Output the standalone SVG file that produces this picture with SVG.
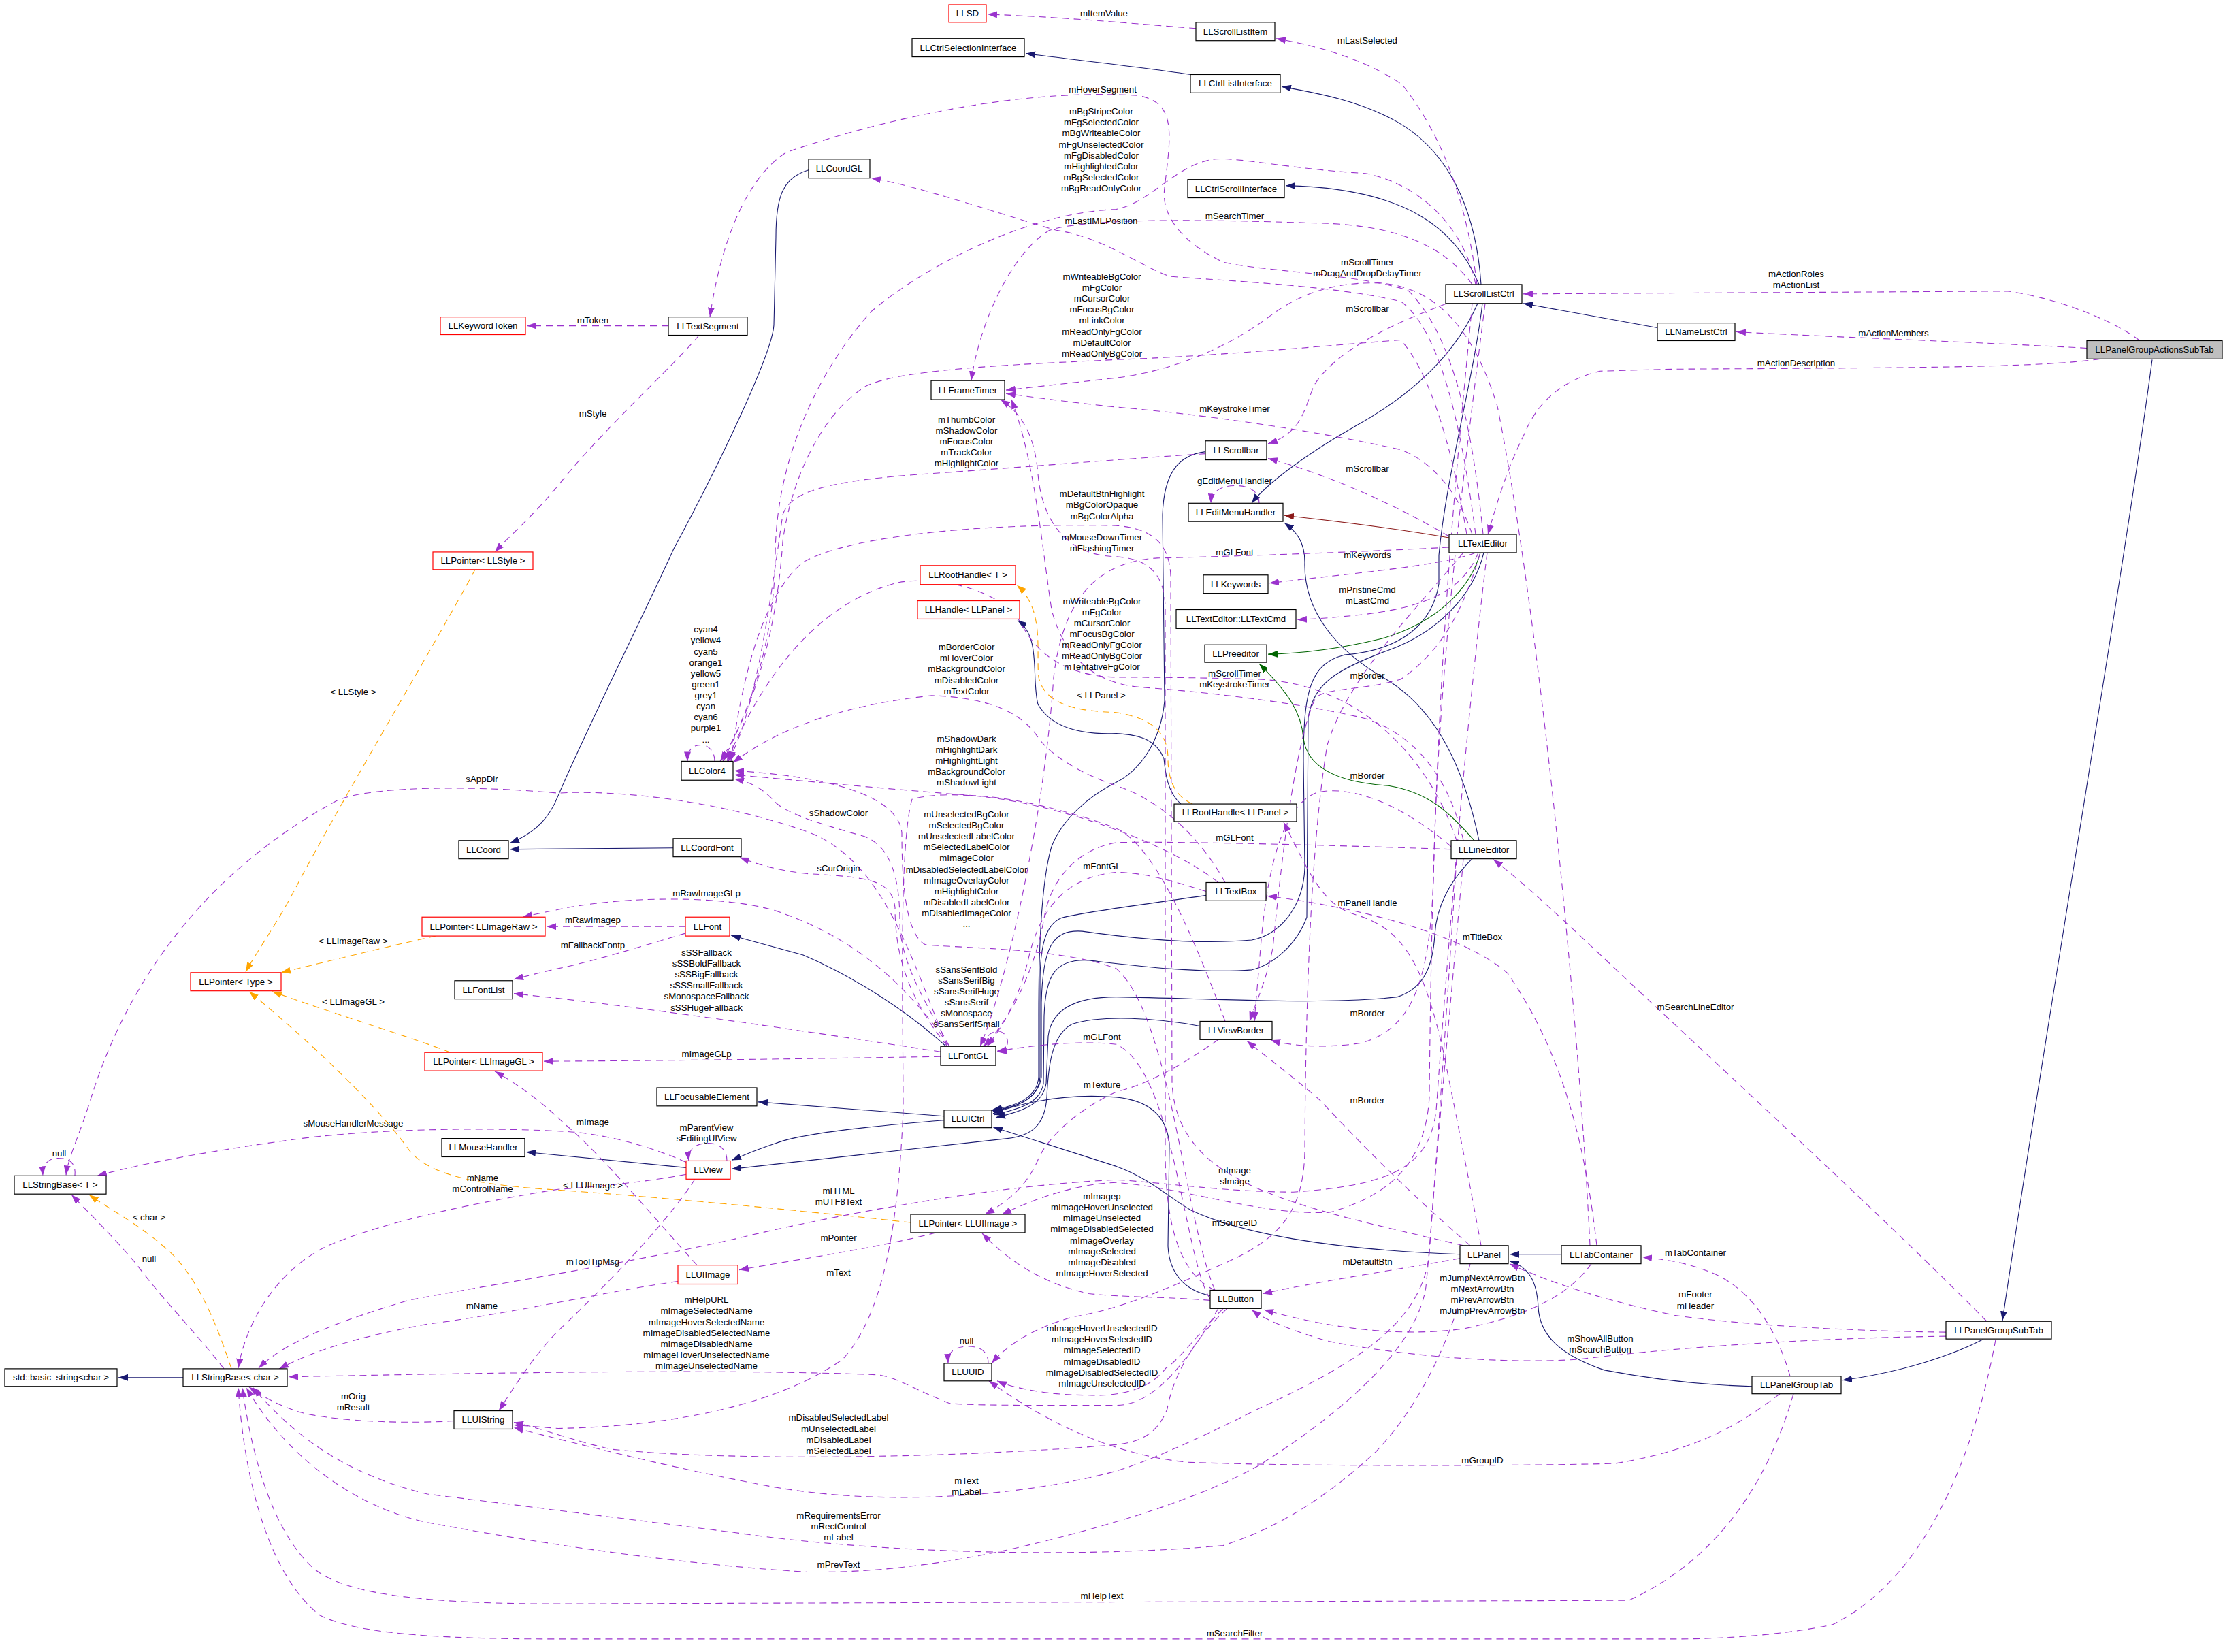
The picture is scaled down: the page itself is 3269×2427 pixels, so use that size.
<svg xmlns="http://www.w3.org/2000/svg" width="3269" height="2427" viewBox="0 0 3269 2427">
<style>
text{font-family:"Liberation Sans",Arial,Helvetica,sans-serif;font-size:13.3px;fill:#000;text-anchor:middle}
.nb{fill:#fff;stroke:#000;stroke-width:1.2}
.nr{fill:#fff;stroke:#ff0000;stroke-width:1.2}
.nm{fill:#bfbfbf;stroke:#000;stroke-width:1.2}
.u{fill:none;stroke:#9a32cd;stroke-width:1.1;stroke-dasharray:10,7;marker-end:url(#mp)}
.i{fill:none;stroke:#191970;stroke-width:1.1;marker-end:url(#mb)}
.t{fill:none;stroke:#ffa500;stroke-width:1.1;stroke-dasharray:10,7;marker-end:url(#mo)}
.g{fill:none;stroke:#006400;stroke-width:1.1;marker-end:url(#mg)}
.d{fill:none;stroke:#8b1a1a;stroke-width:1.1;marker-end:url(#md)}
</style>
<defs>
<marker id="mp" viewBox="0 0 14 10" refX="14" refY="5" markerWidth="14" markerHeight="10" markerUnits="userSpaceOnUse" orient="auto"><path d="M0,0 L14,5 L0,10 z" fill="#9a32cd"/></marker>
<marker id="mb" viewBox="0 0 14 10" refX="14" refY="5" markerWidth="14" markerHeight="10" markerUnits="userSpaceOnUse" orient="auto"><path d="M0,0 L14,5 L0,10 z" fill="#191970"/></marker>
<marker id="mo" viewBox="0 0 14 10" refX="14" refY="5" markerWidth="14" markerHeight="10" markerUnits="userSpaceOnUse" orient="auto"><path d="M0,0 L14,5 L0,10 z" fill="#ffa500"/></marker>
<marker id="mg" viewBox="0 0 14 10" refX="14" refY="5" markerWidth="14" markerHeight="10" markerUnits="userSpaceOnUse" orient="auto"><path d="M0,0 L14,5 L0,10 z" fill="#006400"/></marker>
<marker id="md" viewBox="0 0 14 10" refX="14" refY="5" markerWidth="14" markerHeight="10" markerUnits="userSpaceOnUse" orient="auto"><path d="M0,0 L14,5 L0,10 z" fill="#8b1a1a"/></marker>
</defs>
<rect x="0" y="0" width="3269" height="2427" fill="#fff"/>
<g id="diagram" transform="matrix(1 0 0 0.995 0 0)">
<g id="edges">
<path class="i" d="M2176,420 C2170,330 2140,230 2053,180 C2000,150 1940,138 1883,128"/>
<path class="i" d="M1749,110 C1690,101 1600,91 1507,79"/>
<path class="i" d="M2173,420 C2140,340 2070,278 1889,274"/>
<path class="i" d="M2171,448 C2140,520 2080,580 1990,630 C1920,670 1860,715 1839,743"/>
<path class="i" d="M2178,448 C2165,560 2125,700 2114,820 L2114,862 C2105,920 2060,960 1975,967 C1925,980 1915,1020 1915,1124 L1917,1281 C1915,1340 1880,1380 1839,1388 C1760,1395 1660,1385 1590,1375 C1545,1372 1532,1400 1530,1480 L1530,1590 C1525,1625 1490,1635 1459,1641"/>
<path class="i" d="M2180,816 C2165,880 2110,935 2040,960 C1960,990 1930,1010 1922,1060 L1920,1354 C1905,1395 1870,1425 1839,1432 C1760,1438 1660,1425 1600,1418 C1550,1415 1536,1440 1534,1500 L1533,1600 C1528,1630 1495,1638 1461,1646"/>
<path class="i" d="M2163,1268 C2130,1300 2110,1340 2108,1380 C2105,1430 2090,1460 2053,1472 C1950,1484 1800,1475 1640,1472 C1580,1472 1545,1490 1540,1530 L1537,1600 C1532,1632 1498,1642 1463,1650"/>
<path class="i" d="M1772,1322 C1700,1333 1600,1345 1560,1355 C1535,1365 1528,1400 1528,1450 L1528,1590 C1526,1625 1493,1634 1458,1640"/>
<path class="i" d="M1771,667 C1730,672 1710,700 1708,760 L1711,1035 C1705,1100 1670,1140 1640,1155 C1600,1175 1560,1210 1545,1250 C1530,1300 1526,1400 1526,1500 L1526,1590 C1524,1622 1492,1633 1457,1639"/>
<path class="i" d="M1778,1913 C1740,1905 1718,1880 1716,1840 L1718,1690 C1715,1650 1690,1625 1640,1620 C1580,1615 1520,1622 1459,1644"/>
<path class="i" d="M2145,1852 C1950,1845 1820,1820 1750,1787 C1720,1770 1690,1740 1640,1722 L1459,1664"/>
<path class="i" d="M1387,1648 L1114,1627"/>
<path class="i" d="M1387,1654 C1250,1665 1170,1676 1140,1688 C1110,1698 1092,1706 1075,1713"/>
<path class="i" d="M1763,1515 C1700,1503 1620,1498 1575,1512 C1545,1528 1540,1575 1538,1620 C1535,1665 1512,1677 1480,1681 L1075,1726"/>
<path class="i" d="M1008,1724 L773,1701"/>
<path class="i" d="M2173,1241 C2150,1130 2110,1050 2040,1005 C1960,960 1915,900 1917,830 C1917,800 1905,785 1887,772"/>
<path class="d" d="M2129,794 C2050,780 1950,768 1887,761"/>
<path class="g" d="M2175,816 C2160,870 2110,920 2030,943 C1960,960 1910,965 1863,966"/>
<path class="g" d="M2166,1241 C2130,1200 2100,1170 2040,1160 C1960,1155 1920,1130 1915,1090 C1912,1050 1890,1020 1850,980"/>
<path class="i" d="M2435,484 L2238,448"/>
<path class="i" d="M3162,531 C3120,850 3000,1550 2942,1950"/>
<path class="i" d="M2913,1978 C2870,2000 2800,2025 2707,2038"/>
<path class="i" d="M2574,2047 C2500,2045 2420,2035 2357,2023 C2290,2000 2262,1970 2260,1930 C2258,1890 2245,1870 2218,1862"/>
<path class="i" d="M2294,1852 L2218,1852"/>
<path class="i" d="M1188,251 C1150,262 1140,290 1140,350 L1137,480 C1135,520 1060,680 990,810 C940,920 860,1080 820,1175 C808,1205 790,1228 749,1245"/>
<path class="i" d="M989,1252 L749,1254"/>
<path class="i" d="M1390,1545 C1330,1490 1250,1440 1180,1410 L1074,1381"/>
<path class="i" d="M269,2034 L174,2034"/>
<path class="i" d="M1735,1187 C1715,1170 1712,1140 1710,1120 C1700,1095 1680,1085 1640,1083 C1590,1085 1545,1075 1525,1040 C1515,1000 1530,940 1495,916"/>
<path class="t" d="M698,841 C640,950 520,1150 440,1300 C410,1360 380,1400 361,1435"/>
<path class="t" d="M640,1382 C580,1395 500,1415 413,1436"/>
<path class="t" d="M662,1554 C600,1530 500,1500 400,1464"/>
<path class="t" d="M1338,1805 C1200,1790 1000,1770 820,1757 C700,1750 630,1735 601,1698 C560,1640 470,1550 366,1464"/>
<path class="t" d="M340,2021 C320,1960 290,1880 240,1840 C200,1805 160,1785 131,1764"/>
<path class="t" d="M1752,1187 C1725,1175 1716,1150 1716,1120 C1716,1080 1690,1060 1640,1052 C1580,1050 1535,1040 1526,1000 C1522,960 1535,900 1494,864"/>
<path class="u" d="M1757,42 C1680,36 1560,25 1451,21"/>
<path class="u" d="M2170,420 C2155,300 2120,200 2060,125 C2010,90 1940,68 1875,57"/>
<path class="u" d="M982,481 L774,481"/>
<path class="u" d="M1027,495 C990,540 880,640 820,717 C780,765 750,790 727,815"/>
<path class="u" d="M2179,789 C2165,650 2140,500 2069,429 C2000,405 1850,400 1797,387 C1740,360 1705,320 1711,277 C1720,200 1730,150 1671,141 C1500,130 1300,175 1155,225 C1100,260 1060,350 1043,468"/>
<path class="u" d="M2168,420 C2150,330 2080,270 2006,256 C1900,250 1820,232 1786,235 C1730,240 1690,300 1640,309 C1500,315 1350,400 1280,460 C1200,550 1140,680 1139,820 C1138,950 1100,1050 1062,1124"/>
<path class="u" d="M2168,789 C2150,650 2120,490 2058,445 C1950,420 1800,415 1718,408 C1670,390 1620,350 1552,340 C1450,310 1350,275 1280,263"/>
<path class="u" d="M2163,420 C2120,360 2050,335 1954,330 C1800,325 1600,320 1542,340 C1490,370 1440,470 1427,562"/>
<path class="u" d="M2155,789 C2140,700 2110,560 2058,502 C1950,510 1800,525 1640,531 C1500,538 1300,545 1265,575 C1200,620 1160,720 1150,800 C1140,950 1100,1060 1058,1124"/>
<path class="u" d="M2336,1839 C2320,1500 2260,900 2200,600 C2160,470 2100,425 2030,418 C1950,415 1900,440 1860,471 C1800,515 1720,548 1640,558 L1478,576"/>
<path class="u" d="M2126,448 C2040,480 1960,520 1930,570 C1915,610 1910,640 1863,655"/>
<path class="u" d="M2129,792 C2050,745 1950,700 1863,677"/>
<path class="u" d="M2163,789 C2140,720 2100,680 2058,664 C1950,640 1800,615 1640,601 C1580,595 1530,588 1478,581"/>
<path class="u" d="M1771,670 C1700,674 1500,690 1343,701 C1200,712 1160,730 1150,760 C1130,900 1110,1050 1070,1124"/>
<path class="u" d="M1850,743 C1850,725 1835,717 1815,717 C1795,717 1780,725 1779,743"/>
<path class="u" d="M2150,1839 C1900,1780 1730,1750 1722,1600 L1720,850 C1718,800 1690,780 1640,776 C1450,772 1250,790 1180,830 C1120,880 1090,1000 1074,1124"/>
<path class="u" d="M1785,1905 C1730,1880 1712,1800 1712,1700 L1712,900 C1712,850 1690,825 1640,822 C1560,820 1530,760 1525,700 C1520,640 1500,610 1470,590"/>
<path class="u" d="M2129,808 C2000,815 1800,822 1700,824 C1600,830 1560,900 1548,1000 C1535,1200 1480,1450 1440,1545"/>
<path class="u" d="M2132,1254 C1900,1246 1700,1242 1640,1244 C1580,1255 1545,1300 1535,1350 C1520,1440 1480,1510 1445,1545"/>
<path class="u" d="M1772,1316 C1720,1300 1680,1288 1640,1288 C1560,1295 1525,1350 1510,1420 C1495,1480 1470,1520 1450,1545"/>
<path class="u" d="M1778,1918 C1740,1860 1725,1580 1640,1542 C1580,1535 1510,1545 1465,1552"/>
<path class="u" d="M2168,816 C2120,835 2000,845 1865,861"/>
<path class="u" d="M2172,816 C2150,870 2100,895 2006,907 C1960,912 1930,914 1906,915"/>
<path class="u" d="M2140,1241 C2100,1120 2000,1010 1850,1003 C1750,1000 1680,1000 1640,1000 C1560,998 1520,960 1500,920 C1470,870 1380,850 1320,860 C1200,890 1120,1000 1068,1124"/>
<path class="u" d="M1800,1303 C1760,1230 1700,1180 1640,1160 C1580,1140 1540,1110 1526,1090 C1500,1050 1450,1030 1369,1027 C1250,1040 1150,1070 1077,1126"/>
<path class="u" d="M1800,1508 C1760,1400 1700,1250 1640,1223 C1580,1200 1500,1180 1448,1176 C1300,1165 1150,1150 1079,1144"/>
<path class="u" d="M1050,1124 C1050,1108 1040,1100 1030,1100 C1018,1100 1010,1106 1010,1124"/>
<path class="u" d="M1395,1545 C1360,1480 1322,1420 1322,1360 C1322,1300 1310,1250 1270,1235 C1200,1215 1150,1200 1135,1180 C1115,1160 1100,1155 1079,1150"/>
<path class="u" d="M1785,1905 C1740,1800 1720,1500 1640,1430 C1560,1400 1420,1400 1360,1395 C1330,1380 1325,1300 1325,1230 C1320,1170 1200,1145 1079,1138"/>
<path class="u" d="M1392,1545 C1340,1480 1315,1420 1315,1340 C1310,1300 1280,1295 1186,1290 C1140,1285 1110,1275 1087,1266"/>
<path class="u" d="M1445,1545 C1448,1520 1475,1515 1480,1535 C1482,1545 1475,1552 1465,1553"/>
<path class="u" d="M1007,1368 L803,1368"/>
<path class="u" d="M1395,1545 C1330,1450 1250,1380 1134,1343 C1050,1320 900,1325 820,1343 C800,1347 785,1350 768,1354"/>
<path class="u" d="M1007,1378 C950,1395 870,1420 820,1430 C790,1437 770,1442 755,1446"/>
<path class="u" d="M1382,1553 C1200,1525 1000,1495 820,1474 L755,1467"/>
<path class="u" d="M1382,1560 C1200,1563 1000,1566 799,1567"/>
<path class="u" d="M1024,1868 C980,1820 880,1700 830,1660 C800,1630 760,1600 727,1582"/>
<path class="u" d="M110,1736 C112,1715 100,1710 85,1710 C70,1710 62,1720 63,1736"/>
<path class="u" d="M1392,1545 C1340,1420 1300,1270 1186,1228 C1050,1180 900,1166 820,1171 C700,1160 550,1160 497,1181 C350,1260 200,1400 131,1630 C115,1680 100,1710 97,1735"/>
<path class="u" d="M329,2021 C290,1970 240,1920 200,1866 C170,1830 130,1790 105,1764"/>
<path class="u" d="M1008,1716 C950,1690 880,1672 820,1670 C700,1664 550,1668 450,1680 C300,1700 200,1720 143,1736"/>
<path class="u" d="M1008,1734 C950,1745 880,1752 820,1756 C700,1775 560,1805 480,1840 C400,1880 360,1960 350,2020"/>
<path class="u" d="M1068,1714 C1068,1695 1055,1688 1040,1688 C1022,1688 1010,1697 1012,1714"/>
<path class="u" d="M1021,1741 C990,1790 920,1870 820,1965 C790,1995 760,2040 733,2083"/>
<path class="u" d="M996,1892 C900,1905 750,1940 628,1955 C520,1975 460,1995 410,2021"/>
<path class="u" d="M667,2098 C600,2102 500,2100 440,2085 C410,2075 385,2062 366,2048"/>
<path class="u" d="M1790,1932 C1750,2000 1700,2075 1640,2075 C1500,2075 1420,2075 1395,2072 C1340,2050 1320,2035 1291,2030 C1100,2022 800,2025 424,2033"/>
<path class="u" d="M1375,1820 C1300,1840 1200,1855 1086,1875"/>
<path class="u" d="M1790,1303 C1700,1230 1450,1150 1340,1180 C1320,1250 1327,1500 1327,1640 C1320,1800 1300,1940 1238,2007 C1150,2070 1000,2106 820,2109 L755,2104"/>
<path class="u" d="M2185,816 C2150,1100 2120,1500 2110,1640 C2100,1720 2050,1750 1900,1760 C1800,1760 1700,1745 1640,1742 C1450,1750 1200,1800 1081,1829 C900,1870 700,1900 600,1920 C500,1950 420,1980 380,2020"/>
<path class="u" d="M2163,448 C2140,700 2105,1000 2100,1620 C2095,1700 2060,1760 1954,1790 C1850,1795 1750,1755 1640,1746 C1580,1748 1520,1770 1472,1793"/>
<path class="u" d="M1778,1920 C1720,1915 1640,1915 1600,1910 C1530,1895 1480,1860 1443,1821"/>
<path class="u" d="M1790,1535 C1740,1570 1690,1600 1640,1612 C1580,1640 1540,1680 1526,1710 C1510,1750 1480,1775 1447,1793"/>
<path class="u" d="M1797,1932 C1760,1970 1730,2010 1713,2020 C1690,2050 1650,2062 1600,2060 C1540,2060 1490,2050 1465,2039"/>
<path class="u" d="M1452,2013 C1452,1995 1440,1988 1422,1988 C1404,1988 1392,1995 1393,2013"/>
<path class="u" d="M2615,2058 C2560,2100 2500,2140 2372,2161 C2200,2165 1900,2165 1745,2159 C1650,2150 1550,2110 1453,2039"/>
<path class="u" d="M1803,1932 C1740,1990 1720,2050 1715,2080 C1700,2120 1670,2130 1640,2133 C1450,2150 1100,2160 900,2140 C850,2130 800,2110 755,2100"/>
<path class="u" d="M2150,1268 C2130,1500 2110,1700 2100,1850 C2090,1950 2000,2010 1849,2080 C1750,2130 1680,2160 1640,2172 C1500,2210 1300,2225 1134,2195 C1000,2170 880,2140 755,2108"/>
<path class="u" d="M2160,1866 C2140,1950 2100,2060 2022,2143 C1950,2210 1880,2255 1797,2282 C1600,2300 1300,2295 1081,2263 C900,2240 700,2215 628,2206 C520,2180 440,2130 372,2049"/>
<path class="u" d="M2140,1268 C2125,1500 2105,1800 2095,1900 C2080,2000 1950,2100 1849,2164 C1750,2220 1600,2260 1500,2284 C1350,2318 1250,2322 1186,2321 C1000,2310 800,2280 628,2248 C520,2225 420,2150 362,2049"/>
<path class="u" d="M2635,2058 C2600,2180 2530,2300 2393,2363 L820,2368 C600,2368 500,2350 460,2315 C400,2260 370,2150 356,2049"/>
<path class="u" d="M2932,1978 C2900,2150 2830,2330 2692,2399 C2600,2418 2500,2420 2460,2420 L820,2420 C620,2420 520,2410 470,2385 C400,2330 360,2200 350,2049"/>
<path class="u" d="M2145,1858 C2050,1875 1950,1890 1855,1910"/>
<path class="u" d="M2338,1866 C2300,1920 2230,1945 2150,1962 C2050,1975 1950,1960 1857,1934"/>
<path class="u" d="M2859,1973 C2700,1975 2500,1985 2320,2007 C2200,2015 2050,2000 1950,1980 C1900,1965 1860,1950 1839,1934"/>
<path class="u" d="M2859,1967 C2700,1965 2550,1955 2460,1942 C2380,1925 2290,1900 2218,1866"/>
<path class="u" d="M2630,2032 C2610,1960 2570,1900 2512,1878 C2480,1865 2450,1860 2413,1856"/>
<path class="u" d="M2919,1951 C2800,1830 2650,1690 2460,1512 C2350,1410 2260,1320 2194,1269"/>
<path class="u" d="M2346,1839 C2330,1700 2300,1560 2215,1437 C2150,1380 2000,1340 1862,1323"/>
<path class="u" d="M2176,1839 C2160,1750 2140,1650 2120,1550 C2090,1420 2060,1370 1990,1350 C1940,1335 1920,1280 1886,1214"/>
<path class="u" d="M2175,816 C2150,900 2120,960 2058,1003 C2000,1020 1950,1015 1933,1030 C1900,1100 1880,1300 1870,1400 C1860,1450 1845,1480 1836,1508"/>
<path class="u" d="M2132,1250 C2050,1180 1980,1160 1935,1170 C1880,1190 1860,1300 1852,1400 C1848,1450 1845,1480 1843,1508"/>
<path class="u" d="M2182,448 C2150,700 2112,1000 2106,1300 C2100,1460 2070,1520 2000,1540 C1950,1548 1900,1545 1867,1536"/>
<path class="u" d="M2160,1839 C2080,1770 2000,1690 1940,1625 C1900,1590 1860,1560 1832,1537"/>
<path class="u" d="M3085,530 C3000,543 2800,543 2460,545 L2351,548 C2300,560 2260,590 2240,640 C2215,690 2200,740 2186,789"/>
<path class="u" d="M3144,503 C3100,470 3020,440 2950,430 L2238,434"/>
<path class="u" d="M3066,514 C2900,505 2700,498 2551,490"/>
<path class="u" d="M2150,816 C2080,900 1980,1000 1950,1100 C1925,1250 1918,1500 1917,1700 C1915,1790 1880,1830 1797,1866 C1700,1910 1640,1934 1578,1944 C1520,1960 1480,1985 1457,2013"/>
<path class="u" d="M2150,1241 C2130,1150 2080,1085 2006,1061 C1900,1035 1750,1020 1680,1015 C1600,1010 1560,960 1545,900 C1530,800 1520,680 1486,590"/>
<g id="edge-labels">
<text x="1622" y="24">mItemValue</text>
<text x="2009" y="64">mLastSelected</text>
<text x="1620" y="137">mHoverSegment</text>
<text x="1618" y="169"><tspan x="1618">mBgStripeColor</tspan><tspan x="1618" dy="16.2">mFgSelectedColor</tspan><tspan x="1618" dy="16.2">mBgWriteableColor</tspan><tspan x="1618" dy="16.2">mFgUnselectedColor</tspan><tspan x="1618" dy="16.2">mFgDisabledColor</tspan><tspan x="1618" dy="16.2">mHighlightedColor</tspan><tspan x="1618" dy="16.2">mBgSelectedColor</tspan><tspan x="1618" dy="16.2">mBgReadOnlyColor</tspan></text>
<text x="1618" y="331">mLastIMEPosition</text>
<text x="1814" y="324">mSearchTimer</text>
<text x="2009" y="392"><tspan x="2009">mScrollTimer</tspan><tspan x="2009" dy="16.2">mDragAndDropDelayTimer</tspan></text>
<text x="1619" y="413"><tspan x="1619">mWriteableBgColor</tspan><tspan x="1619" dy="16.2">mFgColor</tspan><tspan x="1619" dy="16.2">mCursorColor</tspan><tspan x="1619" dy="16.2">mFocusBgColor</tspan><tspan x="1619" dy="16.2">mLinkColor</tspan><tspan x="1619" dy="16.2">mReadOnlyFgColor</tspan><tspan x="1619" dy="16.2">mDefaultColor</tspan><tspan x="1619" dy="16.2">mReadOnlyBgColor</tspan></text>
<text x="2009" y="460">mScrollbar</text>
<text x="2639" y="409"><tspan x="2639">mActionRoles</tspan><tspan x="2639" dy="16.2">mActionList</tspan></text>
<text x="2782" y="496">mActionMembers</text>
<text x="2639" y="541">mActionDescription</text>
<text x="871" y="477">mToken</text>
<text x="871" y="615">mStyle</text>
<text x="1814" y="608">mKeystrokeTimer</text>
<text x="1420" y="624"><tspan x="1420">mThumbColor</tspan><tspan x="1420" dy="16.2">mShadowColor</tspan><tspan x="1420" dy="16.2">mFocusColor</tspan><tspan x="1420" dy="16.2">mTrackColor</tspan><tspan x="1420" dy="16.2">mHighlightColor</tspan></text>
<text x="2009" y="696">mScrollbar</text>
<text x="1814" y="715">gEditMenuHandler</text>
<text x="1619" y="734"><tspan x="1619">mDefaultBtnHighlight</tspan><tspan x="1619" dy="16.2">mBgColorOpaque</tspan><tspan x="1619" dy="16.2">mBgColorAlpha</tspan></text>
<text x="1619" y="798"><tspan x="1619">mMouseDownTimer</tspan><tspan x="1619" dy="16.2">mFlashingTimer</tspan></text>
<text x="1814" y="820">mGLFont</text>
<text x="2009" y="824">mKeywords</text>
<text x="2009" y="875"><tspan x="2009">mPristineCmd</tspan><tspan x="2009" dy="16.2">mLastCmd</tspan></text>
<text x="519" y="1026">&lt; LLStyle &gt;</text>
<text x="1619" y="892"><tspan x="1619">mWriteableBgColor</tspan><tspan x="1619" dy="16.2">mFgColor</tspan><tspan x="1619" dy="16.2">mCursorColor</tspan><tspan x="1619" dy="16.2">mFocusBgColor</tspan><tspan x="1619" dy="16.2">mReadOnlyFgColor</tspan><tspan x="1619" dy="16.2">mReadOnlyBgColor</tspan><tspan x="1619" dy="16.2">mTentativeFgColor</tspan></text>
<text x="1037" y="934"><tspan x="1037">cyan4</tspan><tspan x="1037" dy="16.2">yellow4</tspan><tspan x="1037" dy="16.2">cyan5</tspan><tspan x="1037" dy="16.2">orange1</tspan><tspan x="1037" dy="16.2">yellow5</tspan><tspan x="1037" dy="16.2">green1</tspan><tspan x="1037" dy="16.2">grey1</tspan><tspan x="1037" dy="16.2">cyan</tspan><tspan x="1037" dy="16.2">cyan6</tspan><tspan x="1037" dy="16.2">purple1</tspan><tspan x="1037" dy="16.2">...</tspan></text>
<text x="1420" y="960"><tspan x="1420">mBorderColor</tspan><tspan x="1420" dy="16.2">mHoverColor</tspan><tspan x="1420" dy="16.2">mBackgroundColor</tspan><tspan x="1420" dy="16.2">mDisabledColor</tspan><tspan x="1420" dy="16.2">mTextColor</tspan></text>
<text x="1814" y="999"><tspan x="1814">mScrollTimer</tspan><tspan x="1814" dy="16.2">mKeystrokeTimer</tspan></text>
<text x="2009" y="1002">mBorder</text>
<text x="1618" y="1031">&lt; LLPanel &gt;</text>
<text x="1420" y="1095"><tspan x="1420">mShadowDark</tspan><tspan x="1420" dy="16.2">mHighlightDark</tspan><tspan x="1420" dy="16.2">mHighlightLight</tspan><tspan x="1420" dy="16.2">mBackgroundColor</tspan><tspan x="1420" dy="16.2">mShadowLight</tspan></text>
<text x="2009" y="1150">mBorder</text>
<text x="708" y="1155">sAppDir</text>
<text x="1232" y="1205">sShadowColor</text>
<text x="1420" y="1207"><tspan x="1420">mUnselectedBgColor</tspan><tspan x="1420" dy="16.2">mSelectedBgColor</tspan><tspan x="1420" dy="16.2">mUnselectedLabelColor</tspan><tspan x="1420" dy="16.2">mSelectedLabelColor</tspan><tspan x="1420" dy="16.2">mImageColor</tspan><tspan x="1420" dy="16.2">mDisabledSelectedLabelColor</tspan><tspan x="1420" dy="16.2">mImageOverlayColor</tspan><tspan x="1420" dy="16.2">mHighlightColor</tspan><tspan x="1420" dy="16.2">mDisabledLabelColor</tspan><tspan x="1420" dy="16.2">mDisabledImageColor</tspan><tspan x="1420" dy="16.2">...</tspan></text>
<text x="1814" y="1241">mGLFont</text>
<text x="1619" y="1283">mFontGL</text>
<text x="1232" y="1286">sCurOrigin</text>
<text x="1038" y="1324">mRawImageGLp</text>
<text x="2009" y="1338">mPanelHandle</text>
<text x="2178" y="1388">mTitleBox</text>
<text x="871" y="1363">mRawImagep</text>
<text x="519" y="1394">&lt; LLImageRaw &gt;</text>
<text x="871" y="1400">mFallbackFontp</text>
<text x="1038" y="1411"><tspan x="1038">sSSFallback</tspan><tspan x="1038" dy="16.2">sSSBoldFallback</tspan><tspan x="1038" dy="16.2">sSSBigFallback</tspan><tspan x="1038" dy="16.2">sSSSmallFallback</tspan><tspan x="1038" dy="16.2">sMonospaceFallback</tspan><tspan x="1038" dy="16.2">sSSHugeFallback</tspan></text>
<text x="1420" y="1436"><tspan x="1420">sSansSerifBold</tspan><tspan x="1420" dy="16.2">sSansSerifBig</tspan><tspan x="1420" dy="16.2">sSansSerifHuge</tspan><tspan x="1420" dy="16.2">sSansSerif</tspan><tspan x="1420" dy="16.2">sMonospace</tspan><tspan x="1420" dy="16.2">sSansSerifSmall</tspan></text>
<text x="2491" y="1491">mSearchLineEditor</text>
<text x="519" y="1483">&lt; LLImageGL &gt;</text>
<text x="2009" y="1501">mBorder</text>
<text x="1038" y="1561">mImageGLp</text>
<text x="1619" y="1536">mGLFont</text>
<text x="1619" y="1606">mTexture</text>
<text x="2009" y="1629">mBorder</text>
<text x="519" y="1663">sMouseHandlerMessage</text>
<text x="871" y="1661">mImage</text>
<text x="1038" y="1669"><tspan x="1038">mParentView</tspan><tspan x="1038" dy="16.2">sEditingUIView</tspan></text>
<text x="87" y="1708">null</text>
<text x="709" y="1744"><tspan x="709">mName</tspan><tspan x="709" dy="16.2">mControlName</tspan></text>
<text x="871" y="1755">&lt; LLUIImage &gt;</text>
<text x="1814" y="1733"><tspan x="1814">mImage</tspan><tspan x="1814" dy="16.2">sImage</tspan></text>
<text x="1232" y="1763"><tspan x="1232">mHTML</tspan><tspan x="1232" dy="16.2">mUTF8Text</tspan></text>
<text x="1619" y="1771"><tspan x="1619">mImagep</tspan><tspan x="1619" dy="16.2">mImageHoverUnselected</tspan><tspan x="1619" dy="16.2">mImageUnselected</tspan><tspan x="1619" dy="16.2">mImageDisabledSelected</tspan><tspan x="1619" dy="16.2">mImageOverlay</tspan><tspan x="1619" dy="16.2">mImageSelected</tspan><tspan x="1619" dy="16.2">mImageDisabled</tspan><tspan x="1619" dy="16.2">mImageHoverSelected</tspan></text>
<text x="219" y="1802">&lt; char &gt;</text>
<text x="1814" y="1810">mSourceID</text>
<text x="1232" y="1832">mPointer</text>
<text x="871" y="1867">mToolTipMsg</text>
<text x="1232" y="1883">mText</text>
<text x="2009" y="1867">mDefaultBtn</text>
<text x="2491" y="1854">mTabContainer</text>
<text x="2178" y="1891"><tspan x="2178">mJumpNextArrowBtn</tspan><tspan x="2178" dy="16.2">mNextArrowBtn</tspan><tspan x="2178" dy="16.2">mPrevArrowBtn</tspan><tspan x="2178" dy="16.2">mJumpPrevArrowBtn</tspan></text>
<text x="219" y="1863">null</text>
<text x="2491" y="1916"><tspan x="2491">mFooter</tspan><tspan x="2491" dy="16.2">mHeader</tspan></text>
<text x="1038" y="1924"><tspan x="1038">mHelpURL</tspan><tspan x="1038" dy="16.2">mImageSelectedName</tspan><tspan x="1038" dy="16.2">mImageHoverSelectedName</tspan><tspan x="1038" dy="16.2">mImageDisabledSelectedName</tspan><tspan x="1038" dy="16.2">mImageDisabledName</tspan><tspan x="1038" dy="16.2">mImageHoverUnselectedName</tspan><tspan x="1038" dy="16.2">mImageUnselectedName</tspan></text>
<text x="708" y="1933">mName</text>
<text x="1420" y="1984">null</text>
<text x="1619" y="1966"><tspan x="1619">mImageHoverUnselectedID</tspan><tspan x="1619" dy="16.2">mImageHoverSelectedID</tspan><tspan x="1619" dy="16.2">mImageSelectedID</tspan><tspan x="1619" dy="16.2">mImageDisabledID</tspan><tspan x="1619" dy="16.2">mImageDisabledSelectedID</tspan><tspan x="1619" dy="16.2">mImageUnselectedID</tspan></text>
<text x="2351" y="1981"><tspan x="2351">mShowAllButton</tspan><tspan x="2351" dy="16.2">mSearchButton</tspan></text>
<text x="519" y="2066"><tspan x="519">mOrig</tspan><tspan x="519" dy="16.2">mResult</tspan></text>
<text x="1232" y="2098"><tspan x="1232">mDisabledSelectedLabel</tspan><tspan x="1232" dy="16.2">mUnselectedLabel</tspan><tspan x="1232" dy="16.2">mDisabledLabel</tspan><tspan x="1232" dy="16.2">mSelectedLabel</tspan></text>
<text x="2178" y="2161">mGroupID</text>
<text x="1420" y="2191"><tspan x="1420">mText</tspan><tspan x="1420" dy="16.2">mLabel</tspan></text>
<text x="1232" y="2242"><tspan x="1232">mRequirementsError</tspan><tspan x="1232" dy="16.2">mRectControl</tspan><tspan x="1232" dy="16.2">mLabel</tspan></text>
<text x="1232" y="2315">mPrevText</text>
<text x="1619" y="2361">mHelpText</text>
<text x="1814" y="2416">mSearchFilter</text>
</g>
</g>
<g id="node-LLPanelGroupActionsSubTab"><rect class="nm" x="3066" y="503" width="199" height="27"/><text x="3165.5" y="521">LLPanelGroupActionsSubTab</text></g>
<g id="node-LLPanelGroupSubTab"><rect class="nb" x="2859" y="1951" width="155" height="26"/><text x="2936.5" y="1968.5">LLPanelGroupSubTab</text></g>
<g id="node-LLPanelGroupTab"><rect class="nb" x="2574" y="2032" width="131" height="26"/><text x="2639.5" y="2049.5">LLPanelGroupTab</text></g>
<g id="node-LLPanel"><rect class="nb" x="2145" y="1839" width="71" height="27"/><text x="2180.5" y="1857">LLPanel</text></g>
<g id="node-LLTabContainer"><rect class="nb" x="2294" y="1839" width="117" height="27"/><text x="2352.5" y="1857">LLTabContainer</text></g>
<g id="node-LLButton"><rect class="nb" x="1778" y="1905" width="75" height="27"/><text x="1815.5" y="1923">LLButton</text></g>
<g id="node-LLUICtrl"><rect class="nb" x="1387" y="1639" width="70" height="26"/><text x="1422" y="1656.5">LLUICtrl</text></g>
<g id="node-LLView"><rect class="nr" x="1008" y="1714" width="65" height="27"/><text x="1040.5" y="1732">LLView</text></g>
<g id="node-LLFocusableElement"><rect class="nb" x="965" y="1606" width="147" height="27"/><text x="1038.5" y="1624">LLFocusableElement</text></g>
<g id="node-LLMouseHandler"><rect class="nb" x="649" y="1681" width="122" height="27"/><text x="710" y="1699">LLMouseHandler</text></g>
<g id="node-LLStringBase-T"><rect class="nb" x="21" y="1736" width="135" height="27"/><text x="88.5" y="1754">LLStringBase&lt; T &gt;</text></g>
<g id="node-std-basic_string"><rect class="nb" x="7" y="2021" width="165" height="26"/><text x="89.5" y="2038.5">std::basic_string&lt;char &gt;</text></g>
<g id="node-LLStringBase-char"><rect class="nb" x="269" y="2021" width="153" height="26"/><text x="345.5" y="2038.5">LLStringBase&lt; char &gt;</text></g>
<g id="node-LLUIString"><rect class="nb" x="667" y="2083" width="86" height="27"/><text x="710" y="2101">LLUIString</text></g>
<g id="node-LLUIImage"><rect class="nr" x="996" y="1868" width="88" height="28"/><text x="1040" y="1886.5">LLUIImage</text></g>
<g id="node-LLPointer-LLUIImage"><rect class="nb" x="1338" y="1793" width="168" height="27"/><text x="1422" y="1811">LLPointer&lt; LLUIImage &gt;</text></g>
<g id="node-LLUUID"><rect class="nb" x="1387" y="2013" width="70" height="26"/><text x="1422" y="2030.5">LLUUID</text></g>
<g id="node-LLPointer-Type"><rect class="nr" x="280" y="1436" width="133" height="27"/><text x="346.5" y="1454">LLPointer&lt; Type &gt;</text></g>
<g id="node-LLPointer-LLImageGL"><rect class="nr" x="624" y="1554" width="173" height="27"/><text x="710.5" y="1572">LLPointer&lt; LLImageGL &gt;</text></g>
<g id="node-LLPointer-LLImageRaw"><rect class="nr" x="620" y="1354" width="181" height="28"/><text x="710.5" y="1372.5">LLPointer&lt; LLImageRaw &gt;</text></g>
<g id="node-LLFontList"><rect class="nb" x="668" y="1448" width="85" height="27"/><text x="710.5" y="1466">LLFontList</text></g>
<g id="node-LLCoord"><rect class="nb" x="674" y="1241" width="73" height="27"/><text x="710.5" y="1259">LLCoord</text></g>
<g id="node-LLPointer-LLStyle"><rect class="nr" x="636" y="815" width="147" height="26"/><text x="709.5" y="832.5">LLPointer&lt; LLStyle &gt;</text></g>
<g id="node-LLKeywordToken"><rect class="nr" x="647" y="468" width="125" height="26"/><text x="709.5" y="485.5">LLKeywordToken</text></g>
<g id="node-LLTextSegment"><rect class="nb" x="982" y="468" width="116" height="27"/><text x="1040" y="486">LLTextSegment</text></g>
<g id="node-LLCoordGL"><rect class="nb" x="1188" y="235" width="90" height="28"/><text x="1233" y="253.5">LLCoordGL</text></g>
<g id="node-LLSD"><rect class="nr" x="1394" y="7" width="55" height="26"/><text x="1421.5" y="24.5">LLSD</text></g>
<g id="node-LLCtrlSelectionInterface"><rect class="nb" x="1340" y="57" width="165" height="27"/><text x="1422.5" y="75">LLCtrlSelectionInterface</text></g>
<g id="node-LLFrameTimer"><rect class="nb" x="1368" y="562" width="108" height="28"/><text x="1422" y="580.5">LLFrameTimer</text></g>
<g id="node-LLScrollListItem"><rect class="nb" x="1757" y="33" width="116" height="27"/><text x="1815" y="51">LLScrollListItem</text></g>
<g id="node-LLCtrlListInterface"><rect class="nb" x="1749" y="110" width="132" height="27"/><text x="1815" y="128">LLCtrlListInterface</text></g>
<g id="node-LLCtrlScrollInterface"><rect class="nb" x="1745" y="265" width="142" height="27"/><text x="1816" y="283">LLCtrlScrollInterface</text></g>
<g id="node-LLScrollListCtrl"><rect class="nb" x="2124" y="420" width="112" height="28"/><text x="2180" y="438.5">LLScrollListCtrl</text></g>
<g id="node-LLNameListCtrl"><rect class="nb" x="2435" y="477" width="114" height="26"/><text x="2492" y="494.5">LLNameListCtrl</text></g>
<g id="node-LLScrollbar"><rect class="nb" x="1771" y="651" width="90" height="28"/><text x="1816" y="669.5">LLScrollbar</text></g>
<g id="node-LLEditMenuHandler"><rect class="nb" x="1746" y="743" width="139" height="27"/><text x="1815.5" y="761">LLEditMenuHandler</text></g>
<g id="node-LLTextEditor"><rect class="nb" x="2129" y="789" width="99" height="27"/><text x="2178.5" y="807">LLTextEditor</text></g>
<g id="node-LLKeywords"><rect class="nb" x="1768" y="849" width="95" height="27"/><text x="1815.5" y="867">LLKeywords</text></g>
<g id="node-LLTextCmd"><rect class="nb" x="1728" y="900" width="176" height="28"/><text x="1816" y="918.5">LLTextEditor::LLTextCmd</text></g>
<g id="node-LLPreeditor"><rect class="nb" x="1770" y="952" width="91" height="26"/><text x="1815.5" y="969.5">LLPreeditor</text></g>
<g id="node-LLRootHandle-T"><rect class="nr" x="1352" y="835" width="140" height="28"/><text x="1422" y="853.5">LLRootHandle&lt; T &gt;</text></g>
<g id="node-LLHandle-LLPanel"><rect class="nr" x="1348" y="887" width="150" height="27"/><text x="1423" y="905">LLHandle&lt; LLPanel &gt;</text></g>
<g id="node-LLColor4"><rect class="nb" x="1001" y="1124" width="76" height="28"/><text x="1039" y="1142.5">LLColor4</text></g>
<g id="node-LLCoordFont"><rect class="nb" x="989" y="1238" width="100" height="27"/><text x="1039" y="1256">LLCoordFont</text></g>
<g id="node-LLFont"><rect class="nr" x="1007" y="1354" width="65" height="28"/><text x="1039.5" y="1372.5">LLFont</text></g>
<g id="node-LLFontGL"><rect class="nb" x="1382" y="1545" width="81" height="28"/><text x="1422.5" y="1563.5">LLFontGL</text></g>
<g id="node-LLRootHandle-LLPanel"><rect class="nb" x="1725" y="1187" width="180" height="26"/><text x="1815" y="1204.5">LLRootHandle&lt; LLPanel &gt;</text></g>
<g id="node-LLLineEditor"><rect class="nb" x="2132" y="1241" width="96" height="27"/><text x="2180" y="1259">LLLineEditor</text></g>
<g id="node-LLTextBox"><rect class="nb" x="1772" y="1303" width="88" height="27"/><text x="1816" y="1321">LLTextBox</text></g>
<g id="node-LLViewBorder"><rect class="nb" x="1763" y="1508" width="106" height="27"/><text x="1816" y="1526">LLViewBorder</text></g>
</g>
</svg>
